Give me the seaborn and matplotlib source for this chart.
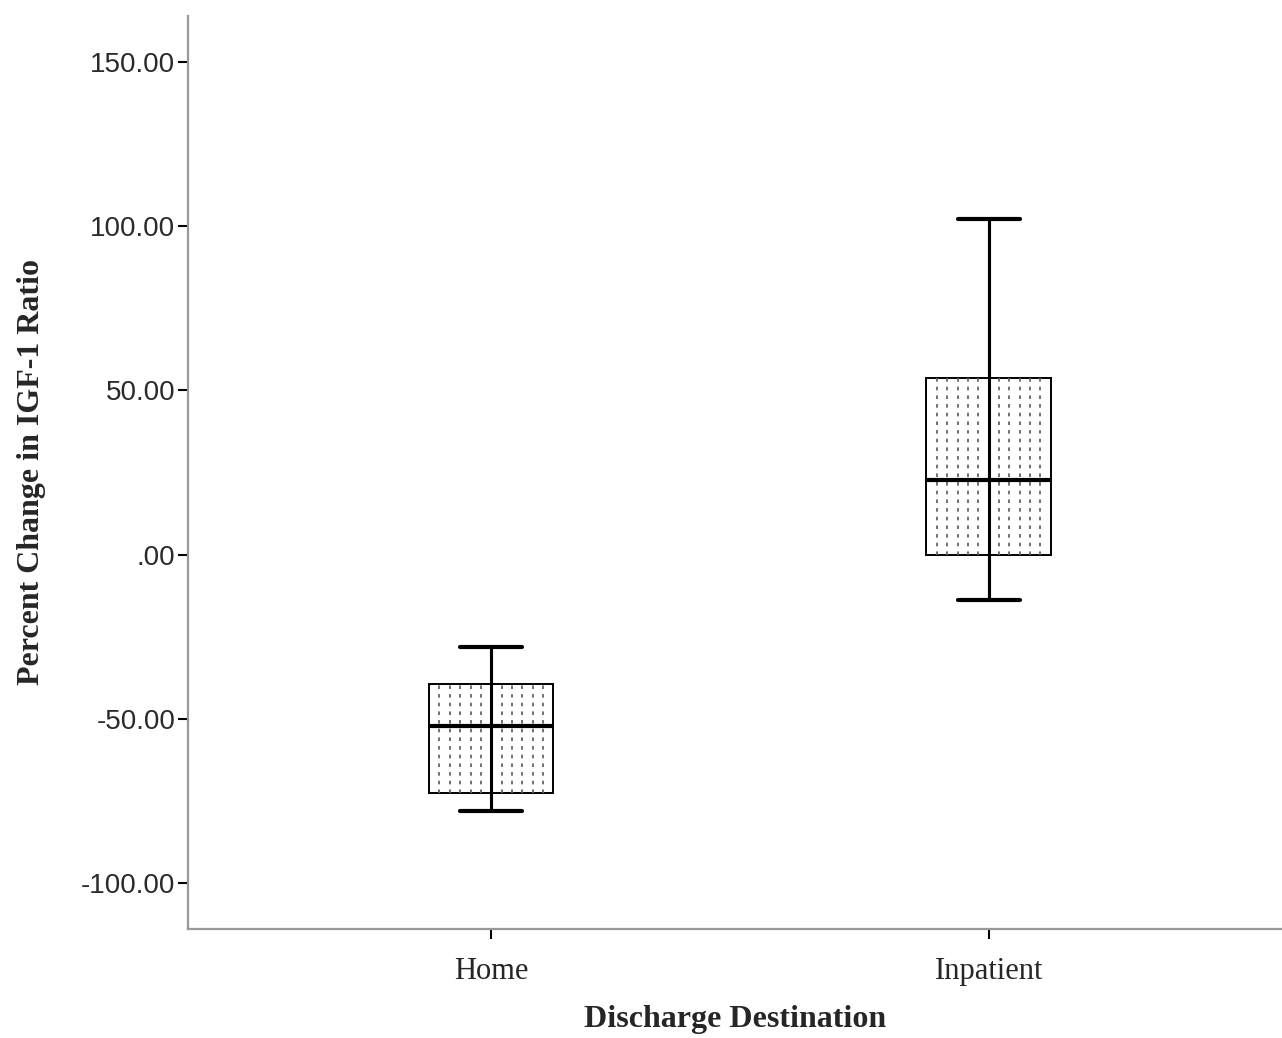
import numpy as np
import pandas as pd
import matplotlib
matplotlib.use("Agg")
import matplotlib.pyplot as plt
import seaborn as sns

# 그룹별 다섯 값: 하단 수염, Q1, 중앙값, Q3, 상단 수염
groups    = ["Home", "Inpatient"]
home      = [-78.2, -72.7, -52.3, -39.3, -28.0]
inpatient = [-13.7, 0.0, 22.8, 53.9, 102.3]
yticks    = [-100, -50, 0, 50, 100, 150]

df = pd.DataFrame({
    "dest":  [groups[0]] * len(home) + [groups[1]] * len(inpatient),
    "value": home + inpatient,
})

sns.set_style("white")
plt.rcParams["axes.unicode_minus"] = False

fig = plt.figure(figsize=(12.82, 10.38), dpi=100)
ax = fig.add_axes([0.1466, 0.105, 0.8534, 0.8796])

sns.boxplot(data=df, x="dest", y="value", order=groups, ax=ax,
            width=0.25, whis=1.5, color="white", fill=True, showfliers=False,
            linecolor="black",
            boxprops=dict(linewidth=1.4, edgecolor="black", facecolor="white"),
            whiskerprops=dict(linewidth=2.2, color="black"),
            capprops=dict(linewidth=3.0, color="black"),
            medianprops=dict(linewidth=3.0, color="black"))

# 점선 해칭 (상자 안쪽에만)
for p in ax.patches:
    ext = p.get_path().get_extents()
    xs = np.linspace(ext.x0, ext.x1, 13)[1:-1]
    lc = ax.vlines(xs, ext.y0, ext.y1, colors="#666666", linewidth=1.3,
                   linestyles=(0, (2, 2.8)), zorder=p.get_zorder() + 0.1)
    lc.set_clip_path(p)

# 수염선이 상자를 관통하도록
vals = [home, inpatient]
ax.vlines(range(len(groups)), [min(v) for v in vals], [max(v) for v in vals],
          colors="black", linewidth=2.2, zorder=4)
for ln in ax.lines:
    ln.set_zorder(5)

ax.set_xlim(-0.61, 1.59)
ax.set_ylim(-114, 164)
ax.set_yticks(yticks)
ax.set_yticklabels([".00" if v == 0 else f"{v:.2f}" for v in yticks],
                   family="Liberation Sans", fontsize=20, color="#2a2a2a")
ax.set_xticks(range(len(groups)))
ax.set_xticklabels(groups, family="Liberation Serif", fontsize=22)

for s in ["top", "right"]:
    ax.spines[s].set_visible(False)
for s in ["left", "bottom"]:
    ax.spines[s].set_color("#999999")
    ax.spines[s].set_linewidth(1.6)
ax.tick_params(axis="both", direction="out", length=7, width=1.5,
               color="black", left=True, bottom=True, pad=2)
ax.tick_params(axis="x", pad=13)

ax.set_xlabel("Discharge Destination", family="Liberation Serif",
              fontsize=23, fontweight="bold", labelpad=14)
ax.set_ylabel("Percent Change in IGF-1 Ratio", family="Liberation Serif",
              fontsize=23, fontweight="bold", labelpad=25)

fig.savefig("out.png", dpi=100)
